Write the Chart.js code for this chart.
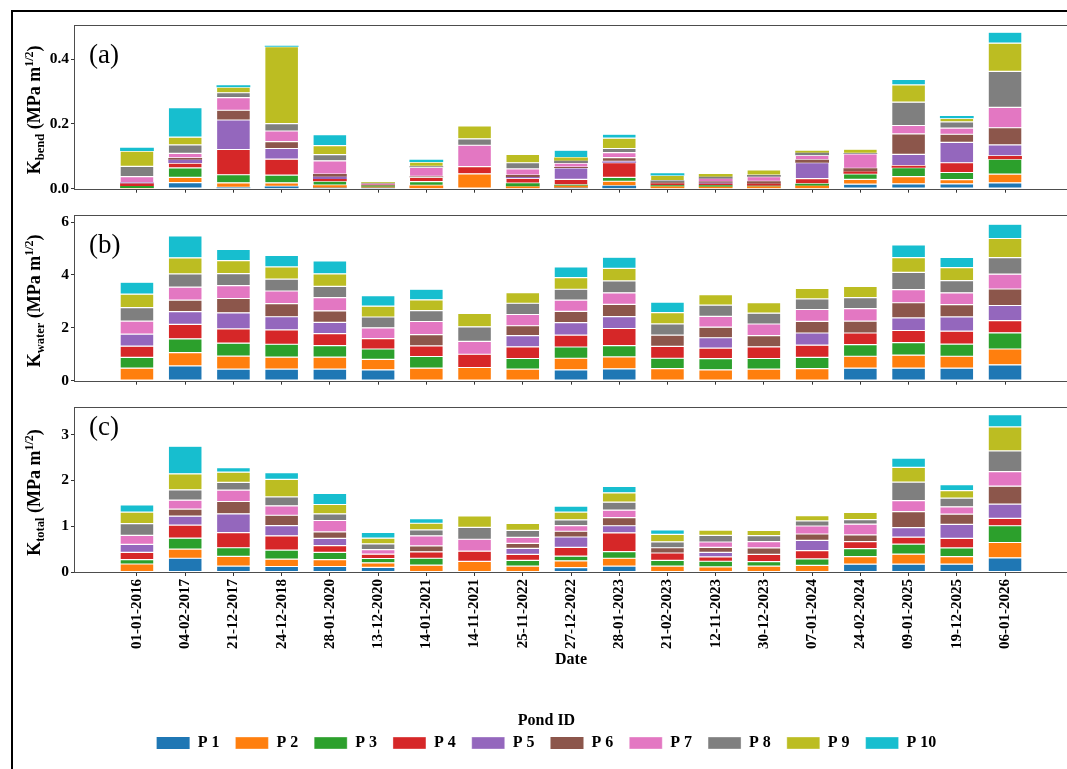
<!DOCTYPE html>
<html>
<head>
<meta charset="utf-8">
<script src="https://cdn.jsdelivr.net/npm/chart.js@4.4.1/dist/chart.umd.min.js"></script>
<style>
  html, body { margin: 0; padding: 0; background: #fff; overflow: hidden; width: 1067px; height: 769px; }
  #wrap { position: relative; width: 1067px; height: 769px; }
  #wrap canvas { position: absolute; left: 0; }
  #frame { position: absolute; left: 11px; top: 10px; width: 1100px; height: 800px;
           border-left: 2px solid #000; border-top: 2px solid #000; }
</style>
</head>
<body>
<div id="wrap">
  <div id="frame"></div>
  <canvas id="cBend" width="1067" height="200" style="top:0px"></canvas>
  <canvas id="cWater" width="1067" height="192" style="top:200px"></canvas>
  <canvas id="cTotal" width="1067" height="374" style="top:395px"></canvas>
</div>
<script>
// Sampling dates (x categories)
const dates = ['01-01-2016', '04-02-2017', '21-12-2017', '24-12-2018', '28-01-2020', '13-12-2020',
  '14-01-2021', '14-11-2021', '25-11-2022', '27-12-2022', '28-01-2023', '21-02-2023',
  '12-11-2023', '30-12-2023', '07-01-2024', '24-02-2024', '09-01-2025', '19-12-2025', '06-01-2026'];

const ponds = ['P 1', 'P 2', 'P 3', 'P 4', 'P 5', 'P 6', 'P 7', 'P 8', 'P 9', 'P 10'];
const pondColors = ['#1f77b4', '#ff7f0e', '#2ca02c', '#d62728', '#9467bd',
  '#8c564b', '#e377c2', '#7f7f7f', '#bcbd22', '#17becf'];

// K_bend per pond (MPa m^1/2)
const bendP1  = [0, .019, .004, .007, .003, .003, 0, 0, 0, .003, .009, 0, 0, 0, 0, .014, .015, .015, .018];
const bendP2  = [.002, .016, .014, .011, .008, .003, .010, .046, .007, .006, .014, .007, .006, .007, .009, .015, .022, .013, .027];
const bendP3  = [.006, .029, .025, .024, .012, .004, .012, 0, .010, .003, .012, .004, .005, .002, .006, .017, .028, .022, .046];
const bendP4  = [.008, .015, .078, .049, .007, .002, .013, .022, .015, .017, .045, .005, .004, .006, .016, .007, .006, .030, .010];
const bendP5  = [.003, .010, .091, .033, .007, 0, 0, 0, .004, .035, .004, 0, .003, 0, .049, 0, .035, .063, .034];
const bendP6  = [0, .006, .030, .021, .008, 0, .003, 0, .006, .003, .012, .004, .004, .008, .009, .010, .063, .025, .053];
const bendP7  = [.018, .014, .039, .033, .041, .003, .028, .066, .019, .012, .015, 0, .009, .014, .014, .044, .026, .019, .063];
const bendP8  = [.032, .026, .015, .023, .019, .002, .003, .020, .019, .007, .013, .005, .006, .005, .008, .002, .072, .019, .111];
const bendP9  = [.047, .024, .017, .237, .028, .003, .013, .040, .026, .010, .032, .016, .008, .016, .006, .013, .053, .011, .087];
const bendP10 = [.010, .091, .006, .003, .034, .001, .007, 0, 0, .023, .012, .007, 0, 0, 0, 0, .017, .007, .034];

// K_water per pond (MPa m^1/2)
const waterP1  = [0, .56, .44, .44, .44, .41, 0, 0, 0, .41, .45, 0, 0, 0, 0, .475, .475, .475, .60];
const waterP2  = [.475, .50, .49, .45, .45, .40, .475, .50, .44, .44, .45, .46, .41, .44, .46, .45, .49, .45, .60];
const waterP3  = [.41, .525, .49, .49, .44, .39, .44, 0, .40, .425, .425, .39, .425, .40, .425, .44, .475, .46, .61];
const waterP4  = [.42, .55, .54, .54, .45, .39, .40, .50, .44, .45, .65, .45, .40, .44, .46, .44, .46, .49, .46];
const waterP5  = [.46, .475, .61, .50, .425, 0, 0, 0, .425, .475, .45, 0, .39, 0, .46, 0, .475, .54, .575];
const waterP6  = [0, .44, .54, .50, .44, 0, .425, 0, .375, .425, .46, .425, .40, .425, .44, .45, .575, .46, .625];
const waterP7  = [.49, .49, .49, .475, .50, .41, .50, .49, .425, .425, .44, 0, .41, .44, .45, .475, .50, .45, .56];
const waterP8  = [.51, .50, .45, .45, .425, .41, .41, .55, .425, .41, .45, .425, .425, .41, .40, .41, .65, .46, .625];
const waterP9  = [.51, .61, .49, .46, .475, .41, .41, .51, .40, .44, .475, .425, .40, .40, .40, .425, .56, .49, .725];
const waterP10 = [.45, .825, .425, .44, .49, .40, .40, 0, 0, .41, .425, .40, 0, 0, 0, 0, .475, .39, .54];

// K_total per pond (MPa m^1/2)
const totalP1  = [0, .30, .13, .12, .12, .10, 0, 0, 0, .095, .13, 0, 0, 0, 0, .17, .17, .17, .31];
const totalP2  = [.175, .20, .21, .16, .15, .10, .15, .23, .13, .15, .17, .13, .11, .13, .145, .165, .22, .165, .335];
const totalP3  = [.095, .24, .19, .20, .16, .095, .15, 0, .125, .10, .145, .125, .125, .095, .14, .175, .22, .19, .365];
const totalP4  = [.16, .285, .33, .31, .145, .095, .14, .225, .13, .195, .41, .16, .095, .16, .18, .155, .15, .21, .16];
const totalP5  = [.175, .195, .41, .225, .16, 0, 0, 0, .13, .225, .155, 0, .10, 0, .225, 0, .21, .305, .315];
const totalP6  = [0, .155, .27, .225, .14, 0, .13, 0, .11, .125, .18, .115, .11, .14, .14, .145, .35, .225, .39];
const totalP7  = [.195, .195, .25, .205, .25, .10, .22, .26, .13, .125, .16, 0, .115, .14, .175, .235, .24, .16, .32];
const totalP8  = [.255, .225, .17, .195, .145, .125, .13, .26, .155, .125, .175, .13, .145, .13, .11, .10, .405, .19, .45];
const totalP9  = [.255, .35, .22, .385, .205, .125, .145, .25, .15, .17, .205, .16, .115, .115, .115, .155, .32, .165, .525];
const totalP10 = [.155, .605, .10, .145, .24, .125, .10, 0, 0, .13, .14, .10, 0, 0, 0, 0, .205, .13, .27];

// y-axis ticks and upper limits
const bendTicks = [0, 0.2, 0.4];
const waterTicks = [0, 2, 4, 6];
const totalTicks = [0, 1, 2, 3];
const bendMax = 0.505, waterMax = 6.27, totalMax = 3.605;

const FONT = "'Liberation Serif', 'Times New Roman', serif";
const AXIS_LEFT = 75;           // left edge of every plotting area (page px)
const X_MIN = -1.285, X_MAX = 19.285;

function buildDatasets(series, yMax) {
  return series.map((vals, k) => ({
    label: ponds[k],
    data: vals.map((v, i) => ({ x: i, y: v })),
    backgroundColor: pondColors[k],
    borderColor: 'rgba(255,255,255,0.6)',
    // thin light edge between segments, skipped on very thin slices
    borderWidth: ctx => (ctx.raw && ctx.raw.y / yMax > 0.02 ? 0.6 : 0),
    borderSkipped: false,
    barPercentage: 0.7,
    categoryPercentage: 1.0
  }));
}

// box around the plotting area (all four spines)
const framePlugin = {
  id: 'frame',
  afterDatasetsDraw(chart) {
    const a = chart.chartArea, c = chart.ctx;
    c.save();
    c.strokeStyle = '#4d4d4d';
    c.lineWidth = 1;
    c.strokeRect(Math.round(a.left) - 0.5, Math.round(a.top) + 0.5,
                 Math.round(a.right - a.left) + 1, Math.round(a.bottom - a.top));
    c.restore();
  }
};

// rotated y title with subscript and superscript, plus the panel tag
const decorPlugin = {
  id: 'decor',
  afterDraw(chart, args, opts) {
    const c = chart.ctx, a = chart.chartArea;
    const parts = [
      { text: 'K', size: 18, shift: 0 },
      { text: opts.sub, size: 12.5, shift: 4 },
      { text: ' (MPa m', size: 18, shift: 0 },
      { text: '1/2', size: 12, shift: -7.5 },
      { text: ')', size: 18, shift: 0 }
    ];
    let total = 0;
    parts.forEach(p => { c.font = `bold ${p.size}px ${FONT}`; p.w = c.measureText(p.text).width; total += p.w; });
    c.save();
    c.translate(40, (a.top + a.bottom) / 2 + 3);
    c.rotate(-Math.PI / 2);
    c.fillStyle = '#000';
    c.textAlign = 'left';
    c.textBaseline = 'alphabetic';
    let cx = -total / 2;
    parts.forEach(p => { c.font = `bold ${p.size}px ${FONT}`; c.fillText(p.text, cx, p.shift); cx += p.w; });
    c.restore();

    c.save();
    c.font = `27px ${FONT}`;
    c.fillStyle = '#000';
    c.textAlign = 'left';
    c.textBaseline = 'middle';
    c.fillText(opts.tag, 89, a.top + opts.tagDy);
    c.restore();
  }
};

function makePanel(id, series, cfg) {
  const padLeft = cfg.padLeft || 0;
  const xScale = {
    type: 'linear',
    min: X_MIN, max: X_MAX,
    offset: false,
    stacked: true,
    afterBuildTicks: s => { s.ticks = dates.map((d, i) => ({ value: i })); },
    grid: { display: true, offset: false, drawOnChartArea: false, drawTicks: true, tickLength: 4, color: '#333', lineWidth: 1 },
    border: { display: false },
    ticks: { display: false }
  };
  if (cfg.showDates) {
    xScale.ticks = {
      display: true, autoSkip: false, minRotation: 90, maxRotation: 90, padding: 3,
      color: '#000', font: { family: FONT, size: 15, weight: 'bold' },
      callback: v => (dates[v] !== undefined ? dates[v] : '')
    };
    xScale.title = { display: true, text: 'Date', color: '#000',
      font: { family: FONT, size: 16, weight: 'bold' }, padding: { top: 4, bottom: 2 } };
    xScale.afterFit = s => {
      const lg = s.chart.legend ? s.chart.legend.height : 0;
      s.height = s.chart.height - cfg.padBottom - lg - cfg.areaBottom;
    };
  } else {
    xScale.afterFit = s => { s.height = cfg.xHeight; };
  }

  return new Chart(document.getElementById(id), {
    type: 'bar',
    data: { datasets: buildDatasets(series, cfg.yMax) },
    plugins: [framePlugin, decorPlugin],
    options: {
      responsive: false,
      animation: false,
      layout: { padding: { top: cfg.padTop, left: padLeft, right: 0, bottom: cfg.padBottom || 0 } },
      scales: {
        x: xScale,
        y: {
          type: 'linear', stacked: true, min: 0, max: cfg.yMax,
          afterBuildTicks: s => { s.ticks = cfg.yTicks.map(v => ({ value: v })); },
          afterFit: s => { s.width = AXIS_LEFT - padLeft; },
          grid: { display: true, drawOnChartArea: false, drawTicks: true, tickLength: 4, color: '#333', lineWidth: 1 },
          border: { display: false },
          ticks: { color: '#000', padding: 2, font: { family: FONT, size: 15.5, weight: 'bold' },
                   callback: v => v.toFixed(cfg.decimals) }
        }
      },
      plugins: {
        tooltip: { enabled: false },
        decor: { sub: cfg.sub, tag: cfg.tag, tagDy: cfg.tagDy },
        legend: cfg.legend ? {
          display: true, position: 'bottom', align: 'center',
          title: { display: true, text: 'Pond ID', color: '#000',
                   font: { family: FONT, size: 16, weight: 'bold' }, padding: { top: 41.4, bottom: -12.6 } },
          labels: { boxWidth: 33, boxHeight: 12, padding: 16, color: '#000',
                    font: { family: FONT, size: 16, weight: 'bold' } }
        } : { display: false }
      }
    }
  });
}

makePanel('cBend',
  [bendP1, bendP2, bendP3, bendP4, bendP5, bendP6, bendP7, bendP8, bendP9, bendP10],
  { padTop: 25, xHeight: 10, yMax: bendMax, yTicks: bendTicks, decimals: 1, sub: 'bend', tag: '(a)', tagDy: 31 });

makePanel('cWater',
  [waterP1, waterP2, waterP3, waterP4, waterP5, waterP6, waterP7, waterP8, waterP9, waterP10],
  { padTop: 15, xHeight: 10, yMax: waterMax, yTicks: waterTicks, decimals: 0, sub: 'water', tag: '(b)', tagDy: 31 });

makePanel('cTotal',
  [totalP1, totalP2, totalP3, totalP4, totalP5, totalP6, totalP7, totalP8, totalP9, totalP10],
  { padTop: 12, padLeft: 26, padBottom: 8, areaBottom: 177, showDates: true, legend: true,
    yMax: totalMax, yTicks: totalTicks, decimals: 0, sub: 'total', tag: '(c)', tagDy: 21 });
</script>
</body>
</html>
